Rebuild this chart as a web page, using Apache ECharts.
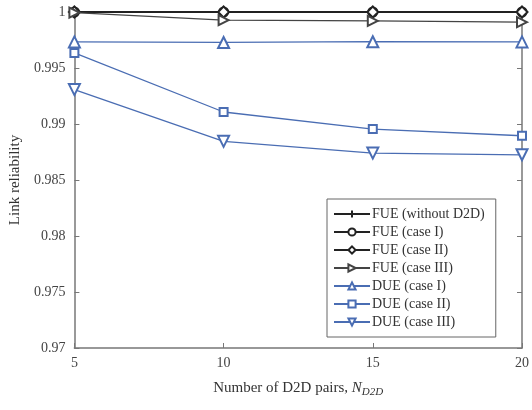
<!DOCTYPE html>
<html>
<head>
<meta charset="utf-8">
<script src="https://cdn.jsdelivr.net/npm/echarts@6/dist/echarts.min.js"></script>
<style>
  html, body { margin: 0; padding: 0; background: #fff; }
  #chart { width: 532px; height: 410px; }
</style>
</head>
<body>
<div id="chart"></div>
<script>
// values
const nPairs = [5, 10, 15, 20]
const fueNoD2D = [1, 1, 1, 1]
const fueCase1 = [1, 1, 1, 1]
const fueCase2 = [1, 1, 1, 1]
const fueCase3 = [0.99995, 0.99927, 0.9992, 0.99909]
const dueCase1 = [0.99733, 0.99728, 0.99735, 0.99733]
const dueCase2 = [0.99635, 0.99107, 0.98955, 0.98895]
const dueCase3 = [0.99307, 0.98845, 0.9874, 0.98725]
const yTicks = [0.97, 0.975, 0.98, 0.985, 0.99, 0.995, 1]

const FONT = 'Liberation Serif'
const BLACK = '#222'
const BLUE = '#4a6db3'
const AXIS = '#777'
const PLUS = 'path://M5,0L5,10M0,5L10,5'

const pairUp = (ys) => nPairs.map((x, i) => [x, ys[i]])

const makeSeries = (name, ys, color, symbol, size, rotate, width) => ({
  name: name,
  type: 'line',
  data: pairUp(ys),
  symbol: symbol,
  symbolSize: size,
  symbolRotate: rotate,
  showAllSymbol: true,
  clip: false,
  lineStyle: { color: color, width: width },
  itemStyle: { color: color, borderColor: color, borderWidth: 1.2 },
  emphasis: { disabled: true },
  animation: false
})

const series = [
  makeSeries('FUE (without D2D)', fueNoD2D, BLACK, PLUS, 11, 0, 2),
  makeSeries('FUE (case I)', fueCase1, BLACK, 'emptyCircle', 9, 0, 1.5),
  makeSeries('FUE (case II)', fueCase2, BLACK, 'emptyDiamond', 11, 0, 1.2),
  makeSeries('FUE (case III)', fueCase3, '#444', 'emptyTriangle', 10, -90, 1.2),
  makeSeries('DUE (case I)', dueCase1, BLUE, 'emptyTriangle', 11, 0, 1.3),
  makeSeries('DUE (case II)', dueCase2, BLUE, 'emptyRect', 8, 0, 1.3),
  makeSeries('DUE (case III)', dueCase3, BLUE, 'emptyTriangle', 11, 180, 1.3)
]

const chart = echarts.init(document.getElementById('chart'), null, { renderer: 'canvas' })

const options = {
  animation: false,
  backgroundColor: '#fff',
  textStyle: { fontFamily: FONT },
  grid: { left: 72, right: 10, top: 12, bottom: 62 },
  legend: {
    orient: 'vertical',
    left: 327,
    top: 199,
    padding: [8, 11, 8, 6],
    itemGap: 4,
    itemWidth: 36,
    itemHeight: 9,
    borderColor: '#666',
    borderWidth: 1,
    backgroundColor: '#fff',
    textStyle: { fontFamily: FONT, fontSize: 14, color: '#333', padding: [0, 0, 0, -3] },
    data: series.map((s) => s.name)
  },
  xAxis: [
    {
      type: 'value',
      min: 5,
      max: 20,
      interval: 5,
      name: '{a|Number of D2D pairs, }{i|N}{s|D2D}',
      nameLocation: 'middle',
      nameGap: 31,
      nameTextStyle: {
        rich: {
          a: { fontFamily: FONT, fontSize: 15, color: '#333' },
          i: { fontFamily: FONT, fontSize: 15, color: '#333', fontStyle: 'italic' },
          s: { fontFamily: FONT, fontSize: 11, color: '#333', fontStyle: 'italic', padding: [8, 0, 0, 0] }
        }
      },
      axisLine: { lineStyle: { color: AXIS, width: 1.5 } },
      axisTick: { inside: true, length: 5, lineStyle: { color: AXIS } },
      axisLabel: { fontFamily: FONT, fontSize: 14, color: '#444', margin: 8 },
      splitLine: { show: false }
    },
    {
      type: 'value',
      position: 'top',
      min: 5,
      max: 20,
      interval: 5,
      axisLine: { show: true, onZero: false, lineStyle: { color: AXIS, width: 1.5 } },
      axisTick: { show: true, inside: true, length: 5, lineStyle: { color: AXIS } },
      axisLabel: { show: false },
      splitLine: { show: false }
    }
  ],
  yAxis: [
    {
      type: 'value',
      min: 0.97,
      max: 1,
      interval: 0.005,
      name: 'Link reliability',
      nameLocation: 'middle',
      nameGap: 47,
      nameTextStyle: { fontFamily: FONT, fontSize: 15, color: '#333' },
      axisLine: { show: true, lineStyle: { color: AXIS, width: 1.5 } },
      axisTick: { show: true, inside: true, length: 5, lineStyle: { color: AXIS } },
      axisLabel: {
        fontFamily: FONT,
        fontSize: 14,
        color: '#444',
        margin: 9,
        formatter: (v) => {
          const t = yTicks.find((k) => Math.abs(k - v) < 1e-9)
          return t === undefined ? '' : String(t)
        }
      },
      splitLine: { show: false }
    },
    {
      type: 'value',
      position: 'right',
      min: 0.97,
      max: 1,
      interval: 0.005,
      axisLine: { show: true, onZero: false, lineStyle: { color: AXIS, width: 1.5 } },
      axisTick: { show: true, inside: true, length: 5, lineStyle: { color: AXIS } },
      axisLabel: { show: false },
      splitLine: { show: false }
    }
  ],
  series: series
}

chart.setOption(options)
</script>
</body>
</html>
